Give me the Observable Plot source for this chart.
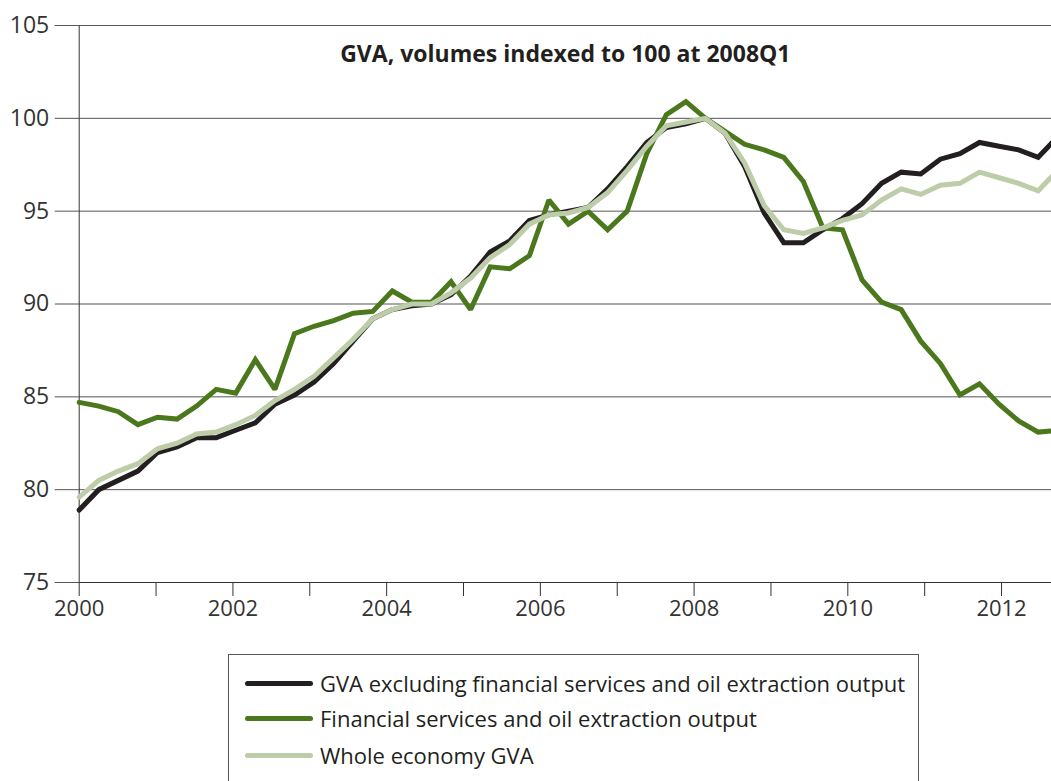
<!DOCTYPE html>
<html><head><meta charset="utf-8">
<script src="https://cdn.jsdelivr.net/npm/d3@7"></script>
<script src="https://cdn.jsdelivr.net/npm/@observablehq/plot@0.6"></script>
<style>
body{margin:0;background:#fff;font-family:"Open Sans",sans-serif;}
#wrap{position:relative;width:1051px;height:781px;overflow:hidden;background:#fff;}
#wrap svg{position:absolute;left:0;top:0;}
#legend{position:absolute;left:228px;top:654px;width:691px;height:160px;border:1px solid #555;box-sizing:border-box;}
.item{position:absolute;left:16px;display:flex;align-items:center;font-size:22px;color:#231f20;white-space:nowrap;}
.sw{display:inline-block;width:68px;height:5px;border-radius:3px;margin-right:7px;}
</style></head><body><div id="wrap"></div>
<script>
const title = "GVA, volumes indexed to 100 at 2008Q1";
const seriesNames = [
  "GVA excluding financial services and oil extraction output",
  "Financial services and oil extraction output",
  "Whole economy GVA"
];
const seriesColors = ["#231f20", "#4b771d", "#bdcca9"];
// quarterly values, 2000Q1 ... 2012Q3
const gvaExcl = [78.9,80.0,80.5,81.0,82.0,82.3,82.8,82.8,83.2,83.6,
  84.6,85.1,85.8,86.8,88.0,89.2,89.7,89.9,90.0,90.5,
  91.5,92.8,93.4,94.5,94.8,95.0,95.2,96.2,97.4,98.7,
  99.5,99.7,100.0,99.2,97.4,94.9,93.3,93.3,94.0,94.6,
  95.4,96.5,97.1,97.0,97.8,98.1,98.7,98.5,98.3,97.9,99.0];
const finOil = [84.7,84.5,84.2,83.5,83.9,83.8,84.5,85.4,85.2,87.0,
  85.4,88.4,88.8,89.1,89.5,89.6,90.7,90.1,90.1,91.2,
  89.7,92.0,91.9,92.6,95.6,94.3,95.0,94.0,95.0,98.1,
  100.2,100.9,100.0,99.3,98.6,98.3,97.9,96.6,94.1,94.0,
  91.3,90.1,89.7,88.0,86.8,85.1,85.7,84.6,83.7,83.1,83.2];
const whole = [79.6,80.5,81.0,81.4,82.2,82.5,83.0,83.1,83.5,84.0,
  84.8,85.4,86.1,87.1,88.1,89.2,89.7,90.0,90.0,90.6,
  91.4,92.5,93.2,94.3,94.8,94.9,95.2,96.0,97.2,98.5,
  99.6,99.8,100.0,99.2,97.6,95.3,94.0,93.8,94.1,94.5,
  94.8,95.6,96.2,95.9,96.4,96.5,97.1,96.8,96.5,96.1,97.2];
const yTicks = [75, 80, 85, 90, 95, 100, 105];
const xTickYears = [2000,2001,2002,2003,2004,2005,2006,2007,2008,2009,2010,2011,2012];
const xLabelYears = [2000,2002,2004,2006,2008,2010,2012];

const quarters = gvaExcl.map((_, i) => `${2000 + Math.floor(i / 4)}Q${i % 4 + 1}`);
const seriesValues = [gvaExcl, finOil, whole];
const rows = seriesValues.map((vals, s) => vals.map((v, i) => ({series: seriesNames[s], q: i, quarter: quarters[i], value: v})));

const W = 1051, H = 630;
const M = {marginLeft: 78.7, marginRight: 0, marginTop: 25, marginBottom: 48};
const font = '"Open Sans", sans-serif';

const axes = Plot.plot({
  width: W, height: H, ...M,
  x: {domain: [2000, 2012.65]},
  y: {domain: [75, 105]},
  style: {fontFamily: font, fontSize: "22px", color: "#333", background: "transparent"},
  marks: [
    Plot.gridY(yTicks, {stroke: "#555", strokeOpacity: 1}),
    Plot.axisY(yTicks, {tickSize: 24, tickPadding: 6, stroke: "#555", label: null, fontSize: 23}),
    Plot.axisX(xTickYears, {tickSize: 14, tickPadding: 4, stroke: "#333", label: null, fontSize: 22,
      tickFormat: d => xLabelYears.includes(d) ? String(d) : ""}),
    Plot.ruleY([75], {stroke: "#333"}),
    Plot.ruleX([2000], {stroke: "#333"}),
    Plot.text([title], {frameAnchor: "top", dy: 20, fontWeight: "bold", fontSize: 23, fill: "#231f20"})
  ]
});

const lineMarks = seriesNames.map((name, s) =>
  Plot.line(rows[s], {x: "q", y: "value", stroke: "series", strokeWidth: 5, strokeLinejoin: "miter", strokeMiterlimit: 2}));

const lines = Plot.plot({
  width: W, height: H, ...M,
  x: {domain: [0, 49.68], axis: null},
  y: {domain: [75, 105], axis: null},
  color: {domain: seriesNames, range: seriesColors},
  style: {background: "transparent"},
  marks: [lineMarks[0], lineMarks[1], lineMarks[2]]
});

const wrap = document.getElementById("wrap");
wrap.appendChild(axes);
wrap.appendChild(lines);

const legend = document.createElement("div");
legend.id = "legend";
const tops = [28, 63, 100];
seriesNames.forEach((name, s) => {
  const item = document.createElement("div");
  item.className = "item";
  item.style.top = (tops[s] - 15) + "px";
  item.style.height = "30px";
  const sw = document.createElement("span");
  sw.className = "sw";
  sw.style.background = seriesColors[s];
  const tx = document.createElement("span");
  tx.textContent = name;
  item.appendChild(sw);
  item.appendChild(tx);
  legend.appendChild(item);
});
wrap.appendChild(legend);
</script>
</body></html>
